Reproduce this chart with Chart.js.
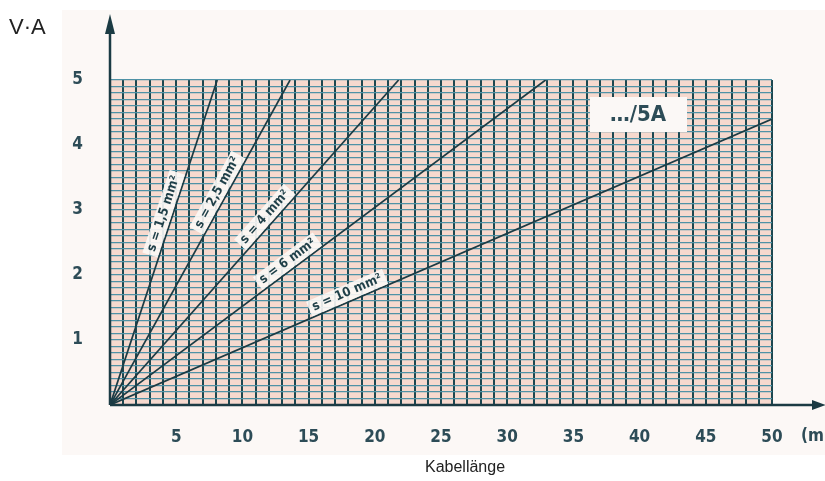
<!DOCTYPE html>
<html>
<head>
<meta charset="utf-8">
<script src="https://cdn.jsdelivr.net/npm/chart.js@4/dist/chart.umd.min.js"></script>
<style>
  html, body { margin: 0; padding: 0; background: #ffffff; }
  #wrap { width: 825px; height: 481px; position: relative; }
</style>
</head>
<body>
<div id="wrap"><canvas id="c" width="825" height="481"></canvas></div>
<script>
// ---- data ----
const sections   = ['s = 1,5 mm²', 's = 2,5 mm²', 's = 4 mm²', 's = 6 mm²', 's = 10 mm²'];
const endLength  = [8.1, 13.6, 21.8, 32.9, 50];   // m at the end of each line
const endDrop    = [5, 5, 5, 5, 4.4];              // V·A at the end of each line
const xTickLabels = [5, 10, 15, 20, 25, 30, 35, 40, 45, 50];
const yTickLabels = [1, 2, 3, 4, 5];
const yUnit = 'V·A';
const xUnit = '(m';
const xTitle = 'Kabellänge';
const boxLabel = '…/5A';

// label placement along each line (value of V·A at label center)
const labelAt = [2.9, 3.2, 2.8, 2.1, 1.6];

const datasets = sections.map((name, i) => ({
  label: name,
  data: [{x: 0, y: 0}, {x: endLength[i], y: endDrop[i]}],
  borderColor: '#1b3b44',
  borderWidth: 1.7,
  pointRadius: 0,
  fill: false,
  tension: 0
}));

const tickFont = { family: "'DejaVu Sans Condensed', 'DejaVu Sans', sans-serif", size: 17, weight: 'bold' };
const tickColor = '#2d4c57';

const decor = {
  id: 'decor',
  beforeDraw(chart) {
    const ctx = chart.ctx, a = chart.chartArea;
    ctx.save();
    ctx.fillStyle = '#ffffff';
    ctx.fillRect(0, 0, chart.width, chart.height);
    ctx.fillStyle = '#fcf8f6';
    ctx.fillRect(62, 10, 763, 445);
    ctx.fillStyle = '#f6d9ce';
    ctx.fillRect(a.left, a.top, a.right - a.left, a.bottom - a.top);
    ctx.restore();
  },
  afterDatasetsDraw(chart) {
    const ctx = chart.ctx, a = chart.chartArea;
    const xs = chart.scales.x, ys = chart.scales.y;
    const x0 = xs.getPixelForValue(0), y0 = ys.getPixelForValue(0);
    ctx.save();
    // axes with arrows
    ctx.strokeStyle = '#1b3b44';
    ctx.fillStyle = '#1b3b44';
    ctx.lineWidth = 2.5;
    ctx.beginPath();
    ctx.moveTo(x0, y0); ctx.lineTo(x0, 30);
    ctx.moveTo(x0, y0); ctx.lineTo(818, y0);
    ctx.stroke();
    ctx.beginPath();
    ctx.moveTo(x0, 14); ctx.lineTo(x0 - 5, 34); ctx.lineTo(x0 + 5, 34); ctx.closePath(); ctx.fill();
    ctx.beginPath();
    ctx.moveTo(826, y0); ctx.lineTo(812, y0 - 5); ctx.lineTo(812, y0 + 5); ctx.closePath(); ctx.fill();

    // line labels
    ctx.font = "bold 13px 'DejaVu Sans Condensed', 'DejaVu Sans', sans-serif";
    ctx.textAlign = 'center';
    ctx.textBaseline = 'middle';
    sections.forEach((name, i) => {
      const px1 = xs.getPixelForValue(endLength[i]), py1 = ys.getPixelForValue(endDrop[i]);
      const th = Math.atan2(py1 - y0, px1 - x0);
      const f = labelAt[i] / endDrop[i];
      const cx = x0 + (px1 - x0) * f + Math.sin(th) * 9;
      const cy = y0 + (py1 - y0) * f - Math.cos(th) * 9;
      ctx.save();
      ctx.translate(cx, cy);
      ctx.rotate(th);
      const w = ctx.measureText(name).width;
      ctx.fillStyle = 'rgba(252,248,246,0.9)';
      ctx.fillRect(-w / 2 - 4, -8, w + 8, 16);
      ctx.fillStyle = '#1f3f48';
      ctx.fillText(name, 0, 0);
      ctx.restore();
    });

    // box label
    ctx.fillStyle = '#fbf8f6';
    ctx.fillRect(590, 97, 97, 35);
    ctx.fillStyle = '#2d4c57';
    ctx.font = "bold 22px 'DejaVu Sans Condensed', 'DejaVu Sans', sans-serif";
    ctx.textAlign = 'center';
    ctx.fillText(boxLabel, 638, 115);

    // unit texts and title
    ctx.fillStyle = '#222222';
    ctx.font = "22px 'Liberation Sans', Arial, sans-serif";
    ctx.textAlign = 'left';
    ctx.fillText(yUnit, 9, 28);
    ctx.font = "16px 'Liberation Sans', Arial, sans-serif";
    ctx.textAlign = 'center';
    ctx.fillText(xTitle, 465, 468);
    ctx.fillStyle = tickColor;
    ctx.font = "bold 17px 'DejaVu Sans Condensed', 'DejaVu Sans', sans-serif";
    ctx.textAlign = 'left';
    ctx.fillText(xUnit, 801, 437);
    ctx.restore();
  }
};

new Chart(document.getElementById('c'), {
  type: 'line',
  data: { datasets },
  options: {
    responsive: false,
    animation: false,
    events: [],
    layout: { padding: { top: 80, right: 53, left: 0, bottom: 0 } },
    plugins: { legend: { display: false }, tooltip: { enabled: false }, title: { display: false } },
    scales: {
      x: {
        type: 'linear', min: 0, max: 50,
        afterFit(s) { s.height = 76; },
        border: { display: false },
        grid: { color: '#1c4750', lineWidth: 2, drawTicks: false },
        ticks: {
          stepSize: 1, autoSkip: false, maxRotation: 0, padding: 22,
          font: tickFont, color: tickColor,
          callback: v => xTickLabels.includes(Math.round(v)) && Math.abs(v - Math.round(v)) < 1e-6 ? String(Math.round(v)) : ''
        }
      },
      y: {
        type: 'linear', min: 0, max: 5,
        afterFit(s) { s.width = 110; },
        border: { display: false },
        grid: { color: '#4f92a6', lineWidth: 1.3, drawTicks: false },
        ticks: {
          stepSize: 0.1, autoSkip: false, padding: 27,
          font: tickFont, color: tickColor,
          callback: v => (Math.abs(v - Math.round(v)) < 1e-6 && yTickLabels.includes(Math.round(v))) ? String(Math.round(v)) : ''
        }
      }
    }
  },
  plugins: [decor]
});
</script>
</body>
</html>
